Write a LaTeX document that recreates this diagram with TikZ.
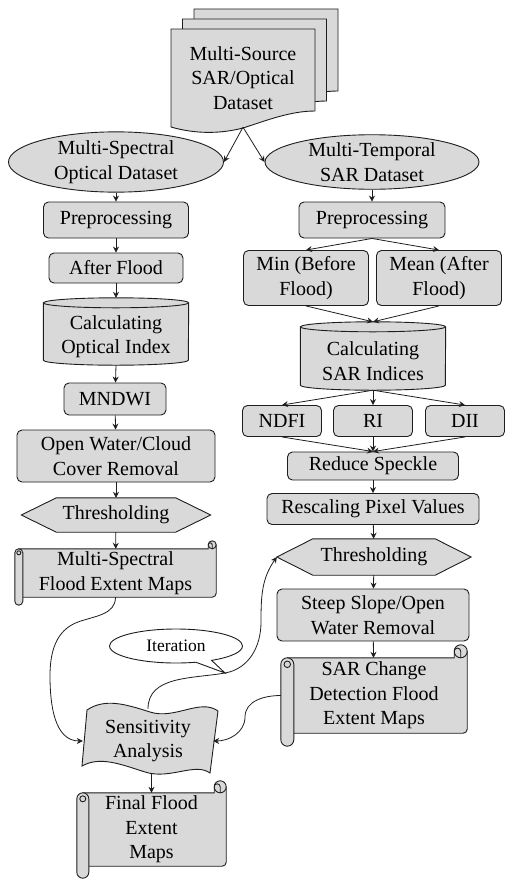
\documentclass[tikz,border=0pt]{standalone}
\usepackage{fontspec}
\usetikzlibrary{shapes.geometric,shapes.callouts,arrows.meta,calc}
\definecolor{gf}{RGB}{217,217,217}
\definecolor{ln}{RGB}{30,30,30}
\pgfdeclarelayer{bg}
\pgfsetlayers{bg,main}
\tikzset{
  shp/.style={draw=ln,fill=gf,line width=0.9pt},
  thinln/.style={draw=ln,line width=0.9pt},
  txt/.style={font=\fontspec{Liberation Serif}\fontsize{20pt}{24.5pt}\selectfont,align=center,inner sep=0pt,text=black},
  box/.style={txt,shp,rectangle,rounded corners=5pt},
  plainbox/.style={txt,rectangle},
  ell/.style={txt,shp,ellipse},
  arr/.style={draw=ln,line width=0.8pt,-{Stealth[length=6pt,width=6pt,inset=2pt]}},
}
\newcommand\cylshp[1]{%
  \path[shp] ($(#1.north west)+(0,5)$) -- ($(#1.south west)+(0,5)$)
    arc[start angle=180,end angle=360,x radius=72.5,y radius=5]
    -- ($(#1.north east)+(0,5)$)
    arc[start angle=0,end angle=180,x radius=72.5,y radius=5] -- cycle;
  \draw[thinln] ($(#1.north west)+(0,5)$) arc[start angle=180,end angle=360,x radius=72.5,y radius=5];}
\newcommand\hexshp[2]{%
  \path[shp] (#1.west) -- ($(#1.north west)+(#2,0)$) -- ($(#1.north east)+(-#2,0)$)
    -- (#1.east) -- ($(#1.south east)+(-#2,0)$) -- ($(#1.south west)+(#2,0)$) -- cycle;}
\newcommand\scrollshp[2]{%
  \path[shp] ($(#1.north west)+(#2,0)$) -- ($(#1.north east)+(-2*#2,0)$) -- ++(0,#2)
    arc[start angle=180,end angle=0,radius=#2]
    {[rounded corners=4pt] -- (#1.south east) -- ($(#1.south west)+(#2,0)$)} -- cycle;
  \draw[thinln] ($(#1.north east)+(-2*#2,#2)$) arc[start angle=180,end angle=360,radius=#2];
  \draw[thinln] ($(#1.north east)+(-#2,0)$) -- ++(0,#2) arc[start angle=0,end angle=180,radius=#2/2];
  \path[shp] ($(#1.north west)+(0,-#2)$) arc[start angle=180,end angle=0,radius=#2]
    -- ($(#1.south west)+(2*#2,-#2)$) arc[start angle=0,end angle=-180,radius=#2] -- cycle;
  \draw[thinln] ($(#1.north west)+(#2,-#2)$) circle[radius=#2/2];}
\begin{document}
\begin{tikzpicture}[x=1pt,y=1pt]
\useasboundingbox (0,0) rectangle (518,-892);
% nodes
\node[plainbox,minimum width=144pt,minimum height=98pt] (src) at (243,-78) {Multi-Source\\SAR/Optical\\Dataset};
\node[ell,minimum width=215pt,minimum height=52pt] (msod) at (116,-162) {Multi-Spectral\\Optical Dataset};
\node[ell,minimum width=214pt,minimum height=52pt] (mtsd) at (372,-162) {Multi-Temporal\\SAR Dataset};
\node[box,minimum width=145pt,minimum height=36pt] (pre1) at (116,-220) {Preprocessing};
\node[box,minimum width=146pt,minimum height=36pt] (pre2) at (372,-220) {Preprocessing};
\node[box,minimum width=134pt,minimum height=30pt] (af) at (116,-268) {After Flood};
\node[box,minimum width=125pt,minimum height=55pt] (min) at (306,-278) {Min (Before\\Flood)};
\node[box,minimum width=125pt,minimum height=55pt] (mean) at (439,-278) {Mean (After\\Flood)};
\node[plainbox,minimum width=145pt,minimum height=57pt] (cyl1) at (116,-336.5) {Calculating\\Optical Index};
\node[plainbox,minimum width=145pt,minimum height=58pt] (cyl2) at (373,-361) {Calculating\\SAR Indices};
\node[box,minimum width=102pt,minimum height=32pt] (mndwi) at (115,-399) {MNDWI};
\node[box,minimum width=79pt,minimum height=31pt] (ndfi) at (282,-421) {NDFI};
\node[box,minimum width=79pt,minimum height=31pt] (ri) at (373,-421) {RI};
\node[box,minimum width=79pt,minimum height=31pt] (dii) at (465,-421) {DII};
\node[box,minimum width=198pt,minimum height=52pt] (ow) at (116,-456) {Open Water/Cloud\\Cover Removal};
\node[box,minimum width=171pt,minimum height=28pt] (rs) at (373,-466) {Reduce Speckle};
\node[box,minimum width=212pt,minimum height=31pt] (rpv) at (373,-509) {Rescaling Pixel Values};
\node[plainbox,minimum width=189pt,minimum height=34pt] (th1) at (116,-515) {Thresholding};
\node[plainbox,minimum width=194pt,minimum height=36pt] (th2) at (374,-557) {Thresholding};
\node[plainbox,minimum width=201pt,minimum height=48pt] (ms) at (115.5,-573) {Multi-Spectral\\Flood Extent Maps};
\node[box,minimum width=192pt,minimum height=52pt] (ssow) at (373,-615) {Steep Slope/Open\\Water Removal};
\node[plainbox,minimum width=186pt,minimum height=75pt] (sar) at (374,-695.5) {SAR Change\\Detection Flood\\Extent Maps};
\node[plainbox,minimum width=130pt,minimum height=64pt] (sens) at (148,-741) {Sensitivity\\Analysis};
\node[plainbox,minimum width=149pt,minimum height=73pt] (fin) at (151.5,-829.5) {Final Flood\\Extent\\Maps};
\coordinate (cyl1top) at ($(cyl1.north)+(0,10)$);
\coordinate (cyl2top) at ($(cyl2.north)+(0,10)$);
\coordinate (c1) at (78,-622);
\coordinate (c2) at (50,-676);
\coordinate (it1) at (225,-673);
\coordinate (it2) at (261,-622);
\coordinate (s1) at (245,-717);
\node[txt,thinln,fill=white,ellipse callout,minimum width=133pt,minimum height=34pt,
  callout absolute pointer={(it1)},font=\fontspec{Liberation Serif}\fontsize{17.5pt}{21pt}\selectfont] (iter) at (176,-646) {Iteration};
% background shapes
\begin{pgfonlayer}{bg}
\foreach \d in {23,11.5,0}{
  \path[shp,shift={(\d,0.87*\d)}] (171,-29) -- (315,-29) -- (315,-111)
    .. controls (290,-111) and (265,-121) .. (243,-128)
    .. controls (220,-134) and (195,-134) .. (171,-127) -- cycle;}
\cylshp{cyl1}
\cylshp{cyl2}
\hexshp{th1}{35}
\hexshp{th2}{36}
\scrollshp{ms}{4}
\scrollshp{sar}{6.5}
\scrollshp{fin}{6}
\path[shp] (87,-710) .. controls (105,-698) and (125,-704) .. (150,-712)
  .. controls (175,-720) and (200,-698) .. (218,-711) -- (210,-773)
  .. controls (195,-762) and (170,-780) .. (145,-772)
  .. controls (120,-764) and (100,-756) .. (82,-766) -- cycle;
\end{pgfonlayer}
% connectors
\draw[arr] (src.south) -- (msod.east);
\draw[arr] (src.south) -- (mtsd.west);
\draw[arr] (msod) -- (pre1);
\draw[arr] (pre1) -- (af);
\draw[arr] (af) -- (cyl1top);
\draw[arr] (cyl1.south) -- (mndwi);
\draw[arr] (mndwi) -- (ow);
\draw[arr] (ow) -- (th1);
\draw[arr] (th1) -- (ms);
\draw[arr] (mtsd) -- (pre2);
\draw[arr] (pre2.south) -- (min.north);
\draw[arr] (pre2.south) -- (mean.north);
\draw[arr] (min.south) -- (cyl2top);
\draw[arr] (mean.south) -- (cyl2top);
\draw[arr] (cyl2.south) -- (ndfi.north);
\draw[arr] (cyl2.south) -- (ri.north);
\draw[arr] (cyl2.south) -- (dii.north);
\draw[arr] (ndfi.south) -- (rs.north);
\draw[arr] (ri.south) -- (rs.north);
\draw[arr] (dii.south) -- (rs.north);
\draw[arr] (rs) -- (rpv);
\draw[arr] (rpv) -- (th2);
\draw[arr] (th2) -- (ssow);
\draw[arr] (ssow) -- (sar);
\draw[arr] (ms.south) to[out=-90,in=20] (c1) to[out=200,in=90] (c2) to[out=-90,in=180] (sens.west);
\draw[arr] (sens.north) to[out=90,in=190] (it1) to[out=10,in=-90] (it2) to[out=90,in=235] (th2.west);
\draw[arr] (sar.west) to[out=180,in=90] (s1) to[out=-90,in=0] (sens.east);
\draw[arr] (sens.south -| fin.north) -- (fin.north);
\end{tikzpicture}
\end{document}
